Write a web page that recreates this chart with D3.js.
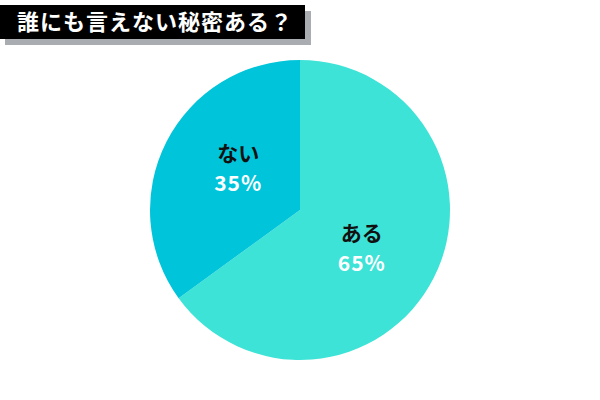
<!DOCTYPE html>
<html>
<head>
<meta charset="utf-8">
<script src="https://cdn.jsdelivr.net/npm/d3@7"></script>
<style>
  body { margin: 0; background: #fff; }
  svg { display: block; font-family: "Noto Sans CJK JP", "Noto Sans", sans-serif; }
</style>
</head>
<body>
<svg id="chart" width="600" height="400"></svg>
<script>
const title = "誰にも言えない秘密ある？"
const labels = ["ある", "ない"]
const values = [65, 35]
const colors = ["#3de3d6", "#00c5da"]

const width = 600, height = 400
const cx = 300, cy = 210, radius = 150

const svg = d3.select("#chart")

// title box with drop shadow
svg.append("rect")
    .attr("x", 5).attr("y", 11)
    .attr("width", 306).attr("height", 34)
    .attr("fill", "#a9adb2")
svg.append("rect")
    .attr("x", 0).attr("y", 5)
    .attr("width", 305).attr("height", 34)
    .attr("fill", "#000")
svg.append("text")
    .attr("x", 17).attr("y", 30)
    .attr("fill", "#fff")
    .attr("font-size", 22)
    .attr("font-weight", "bold")
    .attr("letter-spacing", 1)
    .text(title)

const pie = d3.pie().sort(null).value(d => d)
const arc = d3.arc().innerRadius(0).outerRadius(radius)

const arcs = pie(values)

const g = svg.append("g").attr("transform", `translate(${cx},${cy})`)

g.selectAll("path")
    .data(arcs)
    .join("path")
    .attr("d", arc)
    .attr("fill", (d, i) => colors[i])

// labels sit a little clockwise of each slice's middle
const labelPos = d => {
    const a = (d.startAngle + d.endAngle) / 2 + 0.1
    const r = radius * 0.49
    return [Math.sin(a) * r, -Math.cos(a) * r]
}

const lab = g.selectAll("g.lab")
    .data(arcs)
    .join("g")
    .attr("class", "lab")
    .attr("transform", d => `translate(${labelPos(d)})`)

lab.append("text")
    .attr("text-anchor", "middle")
    .attr("y", -9)
    .attr("font-size", 21)
    .attr("font-weight", "bold")
    .attr("fill", "#111")
    .text((d, i) => labels[i])

lab.append("text")
    .attr("text-anchor", "middle")
    .attr("y", 21)
    .attr("font-size", 21)
    .attr("font-weight", "bold")
    .attr("fill", "#fff")
    .attr("letter-spacing", 1)
    .text(d => d.data + "%")
</script>
</body>
</html>
